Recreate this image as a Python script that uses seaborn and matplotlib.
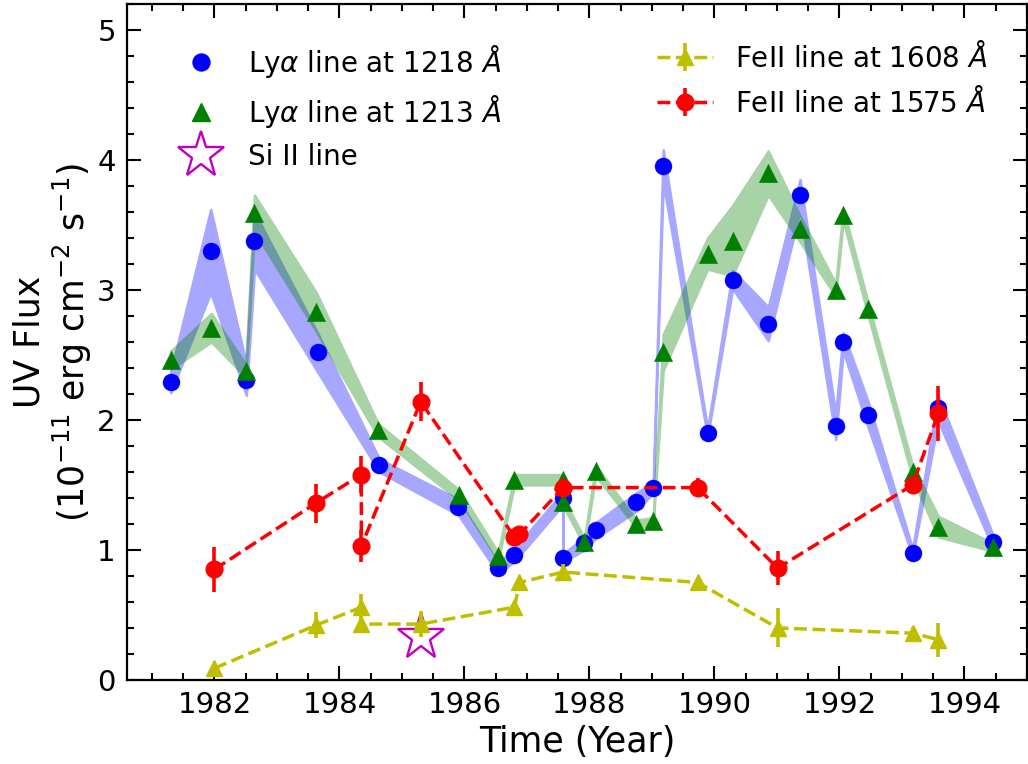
import numpy as np
import pandas as pd
import matplotlib
matplotlib.use("Agg")
import matplotlib.pyplot as plt
import seaborn as sns
from matplotlib.ticker import MultipleLocator
from matplotlib.lines import Line2D

# ---------------- data ----------------
# Ly-alpha line at 1218 A (blue)
t_blue = [1981.30, 1981.94, 1982.51, 1982.64, 1983.65, 1984.64, 1985.90, 1986.54, 1986.80,
          1987.58, 1987.58, 1987.92, 1988.10, 1988.75, 1989.02, 1989.18, 1989.89, 1990.29,
          1990.86, 1991.37, 1991.94, 1992.06, 1992.46, 1993.17, 1993.58, 1994.46]
f_blue = [2.29, 3.30, 2.31, 3.38, 2.52, 1.65, 1.33, 0.86, 0.96, 1.40, 0.94, 1.05, 1.15,
          1.37, 1.48, 3.95, 1.90, 3.08, 2.74, 3.73, 1.95, 2.60, 2.04, 0.98, 2.09, 1.06]
e_blue = [0.08, 0.32, 0.12, 0.22, 0.15, 0.05, 0.06, 0.04, 0.05, 0.05, 0.03, 0.05, 0.06,
          0.07, 0.04, 0.13, 0.03, 0.07, 0.13, 0.12, 0.10, 0.07, 0.10, 0.03, 0.10, 0.05]

# Ly-alpha line at 1213 A (green)
t_green = [1981.30, 1981.95, 1982.50, 1982.64, 1983.63, 1984.62, 1985.92, 1986.54, 1986.80,
           1987.58, 1987.58, 1987.92, 1988.10, 1988.75, 1989.02, 1989.18, 1989.89, 1990.29,
           1990.86, 1991.37, 1991.94, 1992.06, 1992.46, 1993.17, 1993.58, 1994.46]
f_green = [2.46, 2.71, 2.38, 3.59, 2.83, 1.92, 1.42, 0.95, 1.54, 1.54, 1.37, 1.06, 1.61,
           1.20, 1.22, 2.52, 3.28, 3.38, 3.90, 3.47, 3.00, 3.58, 2.85, 1.60, 1.18, 1.02]
e_green = [0.07, 0.11, 0.05, 0.14, 0.15, 0.05, 0.04, 0.03, 0.04, 0.04, 0.03, 0.03, 0.04,
           0.03, 0.03, 0.14, 0.12, 0.27, 0.17, 0.10, 0.05, 0.05, 0.05, 0.05, 0.08, 0.03]

# FeII line at 1575 A (red)
t_red = [1982.00, 1983.62, 1984.35, 1984.35, 1985.30, 1986.80, 1986.88, 1987.58, 1989.73,
         1991.01, 1993.17, 1993.58]
f_red = [0.85, 1.36, 1.58, 1.03, 2.14, 1.10, 1.12, 1.48, 1.48, 0.86, 1.50, 2.05]
e_red = [0.17, 0.15, 0.14, 0.12, 0.15, 0.05, 0.05, 0.07, 0.07, 0.13, 0.07, 0.21]

# FeII line at 1608 A (yellow)
t_yel = [1982.00, 1983.62, 1984.35, 1984.35, 1985.30, 1986.80, 1986.88, 1987.58, 1989.73,
         1991.01, 1993.17, 1993.58]
f_yel = [0.09, 0.42, 0.56, 0.43, 0.43, 0.56, 0.75, 0.83, 0.75, 0.40, 0.36, 0.31]
e_yel = [0.03, 0.10, 0.10, 0.05, 0.10, 0.03, 0.04, 0.06, 0.04, 0.15, 0.05, 0.13]

# Si II line (magenta star)
t_star = [1985.30]
f_star = [0.33]

x_ticks = [1982, 1984, 1986, 1988, 1990, 1992, 1994]
y_ticks = [0, 1, 2, 3, 4, 5]

# ---------------- style ----------------
sns.set_style("ticks")
plt.rcParams['font.family'] = ['DejaVu Sans']
plt.rcParams['mathtext.fontset'] = 'dejavusans'
for k in ['text.color', 'axes.labelcolor', 'xtick.color', 'ytick.color', 'axes.edgecolor']:
    plt.rcParams[k] = 'black'

fig = plt.figure(figsize=(10.28, 7.64), dpi=100)
ax = fig.add_axes([0.1235, 0.110, 0.8755, 0.8848])


def group_alpha(a):
    def f(img, dpi):
        out = img.copy()
        out[..., 3] *= a
        return out, 0, 0
    return f


df_blue = pd.DataFrame({"t": t_blue, "f": f_blue, "e": e_blue})
df_green = pd.DataFrame({"t": t_green, "f": f_green, "e": e_green})

# error bands
for df, col in [(df_blue, "blue"), (df_green, "green")]:
    pc = ax.fill_between(df["t"], df["f"] - df["e"], df["f"] + df["e"],
                         facecolor=col, edgecolor=col, lw=1.8, zorder=1)
    pc.set_agg_filter(group_alpha(0.59))

# points
sns.scatterplot(data=df_blue, x="t", y="f", ax=ax, color="blue", marker="o", s=150,
                edgecolor="blue", linewidth=0.3, zorder=3)
sns.scatterplot(data=df_green, x="t", y="f", ax=ax, color="green", marker="^", s=175,
                edgecolor="green", linewidth=0.3, zorder=4)
star, = ax.plot(t_star, f_star, linestyle="none", marker="*", ms=35, mfc="none",
                mec="m", mew=1.7, zorder=5)

yel = ax.errorbar(t_yel, f_yel, yerr=e_yel, fmt="^--", color="y", ms=12, lw=2.5,
                  elinewidth=2.6, capsize=0, zorder=6)
red = ax.errorbar(t_red, f_red, yerr=e_red, fmt="o--", color="red", ms=12, lw=2.5,
                  elinewidth=2.6, capsize=0, zorder=7)

# axes
ax.set_xlim(1980.6, 1995.0)
ax.set_ylim(0, 5.2)
ax.set_xticks(x_ticks)
ax.set_xticklabels([str(v) for v in x_ticks])
ax.set_yticks(y_ticks)
ax.xaxis.set_minor_locator(MultipleLocator(0.5))
ax.yaxis.set_minor_locator(MultipleLocator(0.2))
ax.tick_params(which="both", direction="in", top=True, right=True, width=1.5)
ax.tick_params(which="major", length=10, labelsize=21, pad=8)
ax.tick_params(which="minor", length=5)
for sp in ax.spines.values():
    sp.set_linewidth(1.6)
    sp.set_visible(True)

ax.set_xlabel("Time (Year)", fontsize=25, labelpad=4)
ax.set_ylabel("UV Flux\n($10^{-11}$ erg cm$^{-2}$ s$^{-1}$)", fontsize=25,
              labelpad=2, linespacing=1.15)

# legends
h_blue = Line2D([], [], linestyle="none", marker="o", color="blue", ms=12.2)
h_green = Line2D([], [], linestyle="none", marker="^", color="green", ms=13.2)
leg1 = ax.legend([h_blue, h_green, star],
                 [r"Ly$\alpha$ line at 1218 $\AA$", r"Ly$\alpha$ line at 1213 $\AA$", "Si II line"],
                 loc="upper left", bbox_to_anchor=(0.053, 0.943), borderaxespad=0,
                 borderpad=0, frameon=False, fontsize=20, labelspacing=0.47,
                 handlelength=1.9, handletextpad=0.75)
ax.add_artist(leg1)
ax.legend([yel, red], [r"FeII line at 1608 $\AA$", r"FeII line at 1575 $\AA$"],
          loc="upper left", bbox_to_anchor=(0.589, 0.944), borderaxespad=0, borderpad=0,
          frameon=False, fontsize=20, labelspacing=0.5, handlelength=2.0,
          handletextpad=0.8)

fig.savefig("out.png", dpi=100)
